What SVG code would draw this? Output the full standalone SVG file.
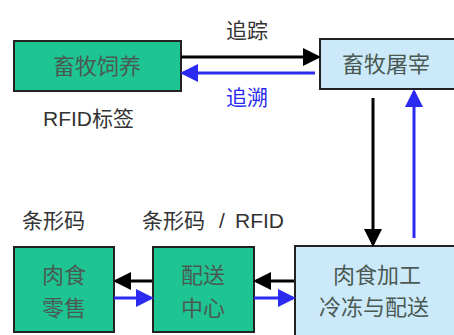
<svg xmlns="http://www.w3.org/2000/svg" width="454" height="335" viewBox="0 0 454 335">
<style>
.g{fill:#1ec492;stroke:#222;stroke-width:2}
.b{fill:#cce9fa;stroke:#222;stroke-width:2}
.t{font-family:"Noto Sans CJK SC","Liberation Sans",sans-serif;font-size:22px;fill:#4a5a52;text-anchor:middle}
.l{font-family:"Liberation Sans","Noto Sans CJK SC",sans-serif;font-size:21px;fill:#333}
.k{stroke:#000;stroke-width:3;fill:none}
.u{stroke:#2a2af0;stroke-width:3;fill:none}
</style>
<defs>
<marker id="ak" markerWidth="6" markerHeight="6" refX="5" refY="3" orient="auto" markerUnits="strokeWidth"><path d="M0,0 L6,3 L0,6 Z" fill="#000"/></marker>
<marker id="au" markerWidth="6" markerHeight="6" refX="5" refY="3" orient="auto" markerUnits="strokeWidth"><path d="M0,0 L6,3 L0,6 Z" fill="#2a2af0"/></marker>
</defs>
<rect width="454" height="335" fill="#fff"/>
<g id="n1"><rect class="g" x="14" y="41" width="167" height="50"/><text class="t" x="97" y="74">畜牧饲养</text></g>
<g id="n2"><rect class="b" x="320" y="39" width="136" height="50"/><text class="t" x="386" y="72">畜牧屠宰</text></g>
<g id="n3"><rect class="b" x="295" y="246" width="162" height="92"/><text class="t" x="377" y="283">肉食加工</text><text class="t" x="374" y="315">冷冻与配送</text></g>
<g id="n4"><rect class="g" x="153" y="247" width="101" height="85"/><text class="t" x="203" y="283">配送</text><text class="t" x="203" y="316">中心</text></g>
<g id="n5"><rect class="g" x="14" y="247" width="100" height="85"/><text class="t" x="64" y="283">肉食</text><text class="t" x="64" y="316">零售</text></g>
<g id="labels">
<text class="l" x="226" y="38">追踪</text>
<text class="l" x="226" y="105" style="fill:#2a2af0">追溯</text>
<text class="l" x="43" y="126">RFID标签</text>
<text class="l" x="22" y="228">条形码</text>
<text class="l" x="142" y="228">条形码<tspan x="219">/</tspan><tspan x="235">RFID</tspan></text>
</g>
<g id="connectors">
<line class="k" x1="181" y1="57" x2="318" y2="57" marker-end="url(#ak)"/>
<line class="u" x1="315" y1="73" x2="183" y2="73" marker-end="url(#au)"/>
<line class="k" x1="373" y1="98" x2="373" y2="244" marker-end="url(#ak)"/>
<line class="u" x1="414" y1="238" x2="414" y2="92" marker-end="url(#au)"/>
<line class="k" x1="294" y1="281" x2="256" y2="281" marker-end="url(#ak)"/>
<line class="u" x1="254" y1="298" x2="293" y2="298" marker-end="url(#au)"/>
<line class="k" x1="152" y1="281" x2="116" y2="281" marker-end="url(#ak)"/>
<line class="u" x1="114" y1="298" x2="151" y2="298" marker-end="url(#au)"/>
</g>
</svg>
